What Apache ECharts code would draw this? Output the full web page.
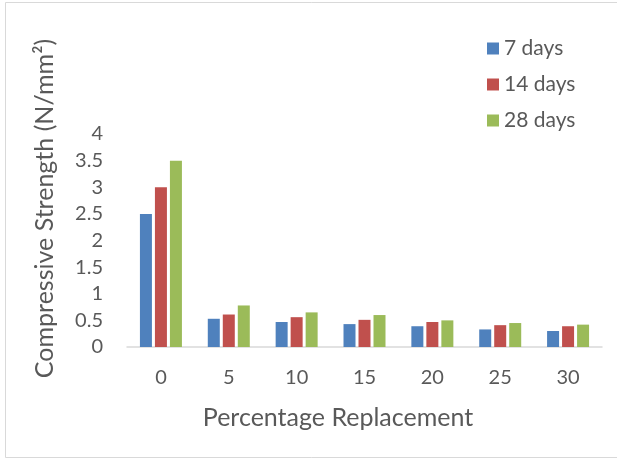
<!DOCTYPE html>
<html>
<head>
<meta charset="utf-8">
<script src="https://cdn.jsdelivr.net/npm/echarts@6/dist/echarts.min.js"></script>
<style>
  html, body { margin: 0; padding: 0; background: #ffffff; }
  #chart { width: 617px; height: 460px; }
</style>
</head>
<body>
<div id="chart"></div>
<script>
// Percentage replacement levels (x categories)
const categories = ['0', '5', '10', '15', '20', '25', '30'];
// Compressive strength (N/mm²) at each curing age
const days7  = [2.5, 0.53, 0.47, 0.43, 0.39, 0.33, 0.30];
const days14 = [3.0, 0.61, 0.56, 0.51, 0.47, 0.41, 0.39];
const days28 = [3.5, 0.78, 0.65, 0.60, 0.50, 0.45, 0.42];
const seriesNames = ['7 days', '14 days', '28 days'];
const seriesColors = ['#4f81bd', '#c0504d', '#9bbb59'];

const FONT = 'Lato, "Open Sans", sans-serif';
const TEXT = '#595959';

const chart = echarts.init(document.getElementById('chart'), null, { renderer: 'canvas' });

const seriesData = [days7, days14, days28];

chart.setOption({
  backgroundColor: '#ffffff',
  animation: false,
  textStyle: { fontFamily: FONT, color: TEXT },
  graphic: [{
    type: 'rect',
    shape: { x: 5.5, y: 2.5, width: 630, height: 455 },
    style: { fill: 'none', stroke: '#d9d9d9', lineWidth: 1 },
    silent: true
  }],
  legend: {
    orient: 'vertical',
    left: 482,
    top: 33,
    itemWidth: 12,
    itemHeight: 12,
    itemGap: 15,
    icon: 'rect',
    textStyle: { fontFamily: FONT, fontSize: 21, color: TEXT },
    data: seriesNames
  },
  grid: { left: 127, right: 15, top: 134, bottom: 113, containLabel: false },
  xAxis: {
    type: 'category',
    data: categories,
    name: 'Percentage Replacement',
    nameLocation: 'middle',
    nameGap: 58,
    nameTextStyle: { fontFamily: FONT, fontSize: 25, color: TEXT, padding: [0, 53, 0, 0] },
    axisLine: { lineStyle: { color: '#d9d9d9', width: 1.5 } },
    axisTick: { show: false },
    axisLabel: { fontFamily: FONT, fontSize: 20, color: TEXT, margin: 21 }
  },
  yAxis: {
    type: 'value',
    min: 0,
    max: 4,
    interval: 0.5,
    name: 'Compressive Strength (N/mm²)',
    nameLocation: 'middle',
    nameRotate: 90,
    nameGap: 70,
    nameTextStyle: { fontFamily: FONT, fontSize: 25, color: TEXT, padding: [0, 0, 0, 64] },
    axisLine: { show: false },
    axisTick: { show: false },
    splitLine: { show: false },
    axisLabel: { fontFamily: FONT, fontSize: 20, color: TEXT, margin: 24 }
  },
  series: seriesNames.map((name, i) => ({
    name: name,
    type: 'bar',
    data: seriesData[i],
    barWidth: 12,
    barGap: '25%',
    itemStyle: { color: seriesColors[i] }
  }))
});
</script>
</body>
</html>
